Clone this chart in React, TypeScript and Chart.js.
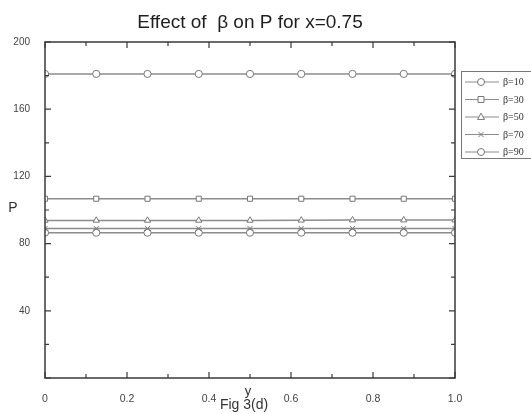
import React, { useEffect, useRef } from 'react';
import { Chart, registerables } from 'chart.js';
Chart.register(...registerables);

// ---- data ----
const yValues = [0, 0.125, 0.25, 0.375, 0.5, 0.625, 0.75, 0.875, 1.0];
const betaLabels = ['β=10', 'β=30', 'β=50', 'β=70', 'β=90'];
const pBeta10 = [181, 181, 181, 181, 181, 181, 181, 181, 181];
const pBeta30 = [106.7, 106.7, 106.7, 106.7, 106.7, 106.7, 106.7, 106.7, 106.7];
const pBeta50 = [93.8, 93.8, 93.8, 93.8, 93.8, 93.9, 94, 94, 94];
const pBeta70 = [89, 89, 89, 89, 89, 89, 89, 89, 89];
const pBeta90 = [86.5, 86.5, 86.5, 86.5, 86.5, 86.5, 86.5, 86.5, 86.5];
const seriesValues = [pBeta10, pBeta30, pBeta50, pBeta70, pBeta90];
const markerStyles = ['circle', 'rect', 'triangle', 'crossRot', 'circle'];
const titleText = 'Effect of  β on P for x=0.75';
const yAxisTitle = 'P';
const xAxisTitle = 'y';
const figCaption = 'Fig 3(d)';
const xMajorTicks = [0, 0.2, 0.4, 0.6, 0.8, 1.0];
const xMinorTicks = [0.1, 0.3, 0.5, 0.7, 0.9];
const yMajorTicks = [0, 40, 80, 120, 160, 200];
const yMinorTicks = [20, 60, 100, 140, 180];

const LINE_COLOR = '#8c8c8c';
const AXIS_COLOR = '#3a3a3a';
const SANS = '"Liberation Sans", Arial, sans-serif';
const SERIF = '"Liberation Serif", "Times New Roman", serif';

function drawMarker(ctx: CanvasRenderingContext2D, style: string, x: number, y: number, r: number) {
  ctx.save();
  ctx.beginPath();
  if (style === 'circle') {
    ctx.arc(x, y, r, 0, Math.PI * 2);
    ctx.fill();
    ctx.stroke();
  } else if (style === 'rect') {
    const s = r * 0.85;
    ctx.rect(x - s, y - s, 2 * s, 2 * s);
    ctx.fill();
    ctx.stroke();
  } else if (style === 'triangle') {
    ctx.moveTo(x, y - r * 1.1);
    ctx.lineTo(x + r, y + r * 0.7);
    ctx.lineTo(x - r, y + r * 0.7);
    ctx.closePath();
    ctx.fill();
    ctx.stroke();
  } else {
    const s = r * 0.75;
    ctx.moveTo(x - s, y - s);
    ctx.lineTo(x + s, y + s);
    ctx.moveTo(x + s, y - s);
    ctx.lineTo(x - s, y + s);
    ctx.stroke();
  }
  ctx.restore();
}

const framePlugin = {
  id: 'framePlugin',
  afterDraw(chart: any) {
    const ctx: CanvasRenderingContext2D = chart.ctx;
    const { left, right, top, bottom } = chart.chartArea;
    const xs = chart.scales.x;
    const ys = chart.scales.y;
    ctx.save();
    // frame
    ctx.strokeStyle = AXIS_COLOR;
    ctx.lineWidth = 1.5;
    ctx.strokeRect(left, top, right - left, bottom - top);
    // ticks
    ctx.lineWidth = 1.2;
    ctx.beginPath();
    const tick = (v: number, len: number, isX: boolean) => {
      if (isX) {
        const px = xs.getPixelForValue(v);
        ctx.moveTo(px, bottom);
        ctx.lineTo(px, bottom - len);
        ctx.moveTo(px, top);
        ctx.lineTo(px, top + len);
      } else {
        const py = ys.getPixelForValue(v);
        ctx.moveTo(left, py);
        ctx.lineTo(left + len, py);
        ctx.moveTo(right, py);
        ctx.lineTo(right - len, py);
      }
    };
    xMajorTicks.forEach((v) => tick(v, 6, true));
    xMinorTicks.forEach((v) => tick(v, 4, true));
    yMajorTicks.forEach((v) => tick(v, 6, false));
    yMinorTicks.forEach((v) => tick(v, 4, false));
    ctx.stroke();

    // title
    ctx.fillStyle = '#1e1e1e';
    ctx.font = `19px ${SANS}`;
    ctx.textAlign = 'center';
    ctx.textBaseline = 'middle';
    ctx.fillText(titleText, (left + right) / 2, 23);

    // axis titles
    ctx.fillStyle = '#333';
    ctx.font = `14px ${SANS}`;
    ctx.fillText(yAxisTitle, 13, 208);
    ctx.font = `13px ${SANS}`;
    ctx.fillText(xAxisTitle, 248, 391);
    ctx.font = `14px ${SANS}`;
    ctx.fillText(figCaption, 244, 405);

    // legend
    const boxLeft = 461;
    const boxTop = 71;
    const rowH = 17.5;
    const firstRow = 82;
    const boxBottom = firstRow + rowH * (betaLabels.length - 1) + 6;
    ctx.strokeStyle = '#777';
    ctx.lineWidth = 1;
    ctx.strokeRect(boxLeft + 0.5, boxTop + 0.5, 100, boxBottom - boxTop);
    betaLabels.forEach((lab, i) => {
      const y = firstRow + i * rowH;
      ctx.strokeStyle = LINE_COLOR;
      ctx.lineWidth = 1.2;
      ctx.beginPath();
      ctx.moveTo(465, y);
      ctx.lineTo(499, y);
      ctx.stroke();
      ctx.fillStyle = '#fff';
      ctx.strokeStyle = '#777';
      ctx.lineWidth = 1;
      drawMarker(ctx, markerStyles[i], 481, y, 3.5);
      ctx.fillStyle = '#333';
      ctx.font = `10px ${SERIF}`;
      ctx.textAlign = 'left';
      ctx.textBaseline = 'middle';
      ctx.fillText(lab, 503, y + 0.5);
    });
    ctx.restore();
  },
};

export default function App() {
  const ref = useRef<HTMLCanvasElement | null>(null);
  useEffect(() => {
    if (!ref.current) return;
    const chart = new Chart(ref.current, {
      type: 'line',
      data: {
        datasets: seriesValues.map((vals, i) => ({
          label: betaLabels[i],
          data: yValues.map((x, j) => ({ x, y: vals[j] })),
          borderColor: LINE_COLOR,
          borderWidth: 1.5,
          pointStyle: markerStyles[i] as any,
          pointRadius: 3.6,
          pointBackgroundColor: '#fff',
          pointBorderColor: '#777',
          pointBorderWidth: 1,
          fill: false,
          tension: 0,
          clip: 0,
        })),
      },
      options: {
        responsive: false,
        animation: false,
        layout: { padding: { top: 42, right: 76, left: 0, bottom: 0 } },
        plugins: { legend: { display: false }, title: { display: false }, tooltip: { enabled: false } },
        scales: {
          x: {
            type: 'linear',
            min: 0,
            max: 1,
            grid: { display: false },
            border: { display: false },
            ticks: {
              stepSize: 0.2,
              color: '#444',
              font: { size: 10.5, family: SANS },
              padding: 7,
              maxRotation: 0,
              callback: (v: any) => (Number(v) === 0 ? '0' : Number(v).toFixed(1)),
            },
            afterFit: (s: any) => { s.height = 36; },
          },
          y: {
            type: 'linear',
            min: 0,
            max: 200,
            grid: { display: false },
            border: { display: false },
            ticks: {
              stepSize: 40,
              color: '#444',
              font: { size: 10, family: SANS },
              padding: 7,
              callback: (v: any) => (Number(v) === 0 ? '' : String(v)),
            },
            afterFit: (s: any) => { s.width = 45; },
          },
        },
      },
      plugins: [framePlugin],
    });
    return () => chart.destroy();
  }, []);
  return (
    <div style={{ position: 'fixed', left: 0, top: 0, width: 531, height: 414, background: '#fff' }}>
      <canvas ref={ref} width={531} height={414} style={{ width: 531, height: 414 }} />
    </div>
  );
}
